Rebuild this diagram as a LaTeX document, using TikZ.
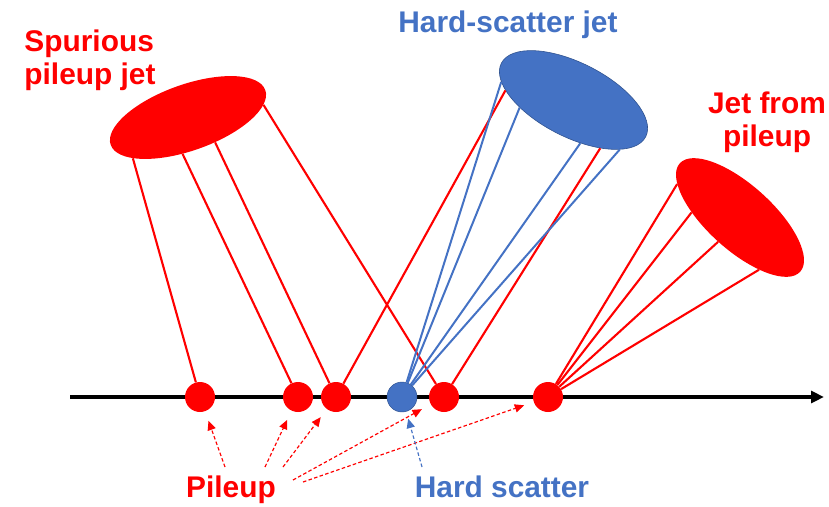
\documentclass[tikz,border=0pt]{standalone}
\usepackage{fontspec}
\setmainfont{Liberation Sans}
\usetikzlibrary{shapes.geometric,arrows.meta}
\definecolor{pured}{RGB}{255,0,0}
\definecolor{hsblue}{RGB}{68,114,196}
\definecolor{hsedge}{RGB}{47,82,143}

\begin{document}
\begin{tikzpicture}[x=0.3mm, y=0.3mm,
        vtx/.style={circle, fill=pured, minimum size=9mm, inner sep=0pt},
        hsvtx/.style={vtx, fill=hsblue, draw=hsedge, line width=0.4pt},
        jet/.style={ellipse, fill=pured, inner sep=0pt},
        trk/.style={pured, line width=1.8pt},
        hstrk/.style={hsblue, line width=1.7pt},
        ptr/.style={pured, line width=1pt, dash pattern=on 3pt off 2pt,
            -{Triangle[length=8pt,width=7pt]}, shorten >=3mm},
        lbl/.style={font=\fontsize{25.5}{28}\selectfont\bfseries, inner sep=0pt}
    ]
    \useasboundingbox (0,0) rectangle (829,506);
    \coordinate (axstart) at (70,109);
    \coordinate (axend) at (824,109);
    \draw[line width=3pt, -{Triangle[length=11pt,width=10pt]}] (axstart) -- (axend);

    \node[jet, rotate=19.5, minimum width=49.2mm, minimum height=19.8mm] (sj) at (188,388.5) {};
    \node[jet, fill=hsblue, draw=hsedge, line width=0.5pt, rotate=-27,
        minimum width=48.6mm, minimum height=22.2mm] (hj) at (573.5,406) {};
    \node[jet, rotate=-42, minimum width=48.6mm, minimum height=19.5mm] (pj) at (740,288.5) {};

    \node[vtx] (p1) at (200,109) {};
    \node[vtx] (p2) at (298,109) {};
    \node[vtx] (p3) at (336,109) {};
    \node[hsvtx] (hs) at (402,109) {};
    \node[vtx] (p4) at (444,109) {};
    \node[vtx] (p5) at (548,109) {};

    \draw[trk] (p1) -- (sj.197);
    \draw[trk] (p2) -- (sj.242);
    \draw[trk] (p3) -- (sj.298);
    \draw[trk] (p4) -- (sj.350);

    \draw[trk] (p3) -- (hj.199);
    \draw[trk] (p4) -- (hj.326);
    \draw[hstrk] (hs) -- (hj.193);
    \draw[hstrk] (hs) -- (hj.215);
    \draw[hstrk] (hs) -- (hj.306);
    \draw[hstrk] (hs) -- (hj.340);

    \draw[trk] (p5) -- (pj.194);
    \draw[trk] (p5) -- (pj.216);
    \draw[trk] (p5) -- (pj.270);
    \draw[trk] (p5) -- (pj.332);

    \node[lbl, pured, align=left] (sjlbl) at (90,446) {Spurious\\pileup jet};
    \node[lbl, hsblue, anchor=base] (hjlbl) at (508,473) {Hard-scatter jet};
    \node[lbl, pured, align=center] (pjlbl) at (767,384) {Jet from\\pileup};
    \node[lbl, pured, anchor=base] (pulbl) at (231,9) {Pileup};
    \node[lbl, hsblue, anchor=base] (hslbl) at (502,9) {Hard scatter};

    \coordinate (pu1) at (225,39);
    \coordinate (pu2) at (265,39);
    \coordinate (pu3) at (283,39);
    \coordinate (pu4) at (293,26);
    \coordinate (pu5) at (303,24);
    \coordinate (hsl) at (422,39);
    \draw[ptr] (pu1) -- (p1);
    \draw[ptr] (pu2) -- (p2);
    \draw[ptr] (pu3) -- (p3);
    \draw[ptr] (pu4) -- (p4);
    \draw[ptr] (pu5) -- (p5);
    \draw[ptr, hsblue, shorten >=2.2mm] (hsl) -- (hs);
\end{tikzpicture}
\end{document}
